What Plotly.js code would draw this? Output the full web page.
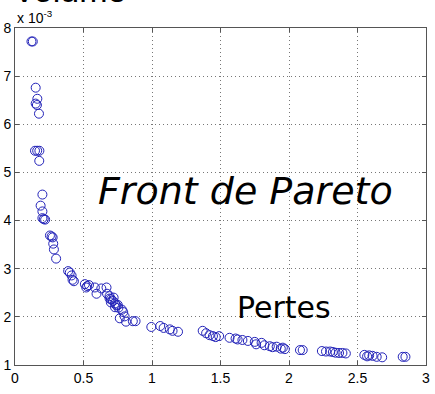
<!DOCTYPE html>
<html>
<head>
<meta charset="utf-8">
<script src="https://cdn.plot.ly/plotly-3.0.1.min.js"></script>
<style>html,body{margin:0;padding:0;background:#fff;}#chart{width:435px;height:394px;}</style>
</head>
<body>
<div id="chart"></div>
<script>
// Pertes (x) and Volume (y, in units of 1e-3)
const pertes = [
  0.12, 0.13,
  0.151, 0.163, 0.151, 0.16, 0.175,
  0.146, 0.162, 0.178, 0.177,
  0.20, 0.187, 0.20, 0.20, 0.21, 0.22,
  0.255, 0.267, 0.275, 0.279, 0.284, 0.30,
  0.388, 0.40, 0.413, 0.42, 0.43,
  0.51, 0.527, 0.52, 0.54, 0.583, 0.595, 0.63, 0.668, 0.672,
  0.69, 0.70, 0.715, 0.73, 0.74, 0.755, 0.78, 0.79, 0.80, 0.765, 0.81, 0.86, 0.88,
  0.69, 0.72, 0.70, 0.73, 0.75,
  0.995, 1.06, 1.085, 1.13, 1.15, 1.19,
  1.37, 1.395, 1.42, 1.445, 1.465, 1.49,
  1.566, 1.61, 1.625, 1.66, 1.70, 1.75, 1.76, 1.80, 1.82, 1.86, 1.88, 1.91, 1.94, 1.955, 1.97,
  2.08, 2.10,
  2.24, 2.27, 2.30, 2.32, 2.34, 2.365, 2.39, 2.415,
  2.55, 2.57, 2.585, 2.61, 2.64, 2.68,
  2.83, 2.85
];
const volume = [
  7.72, 7.72,
  6.76, 6.53, 6.43, 6.40, 6.22,
  5.45, 5.45, 5.45, 5.24,
  4.54, 4.31, 4.19, 4.05, 4.03, 4.02,
  3.69, 3.67, 3.65, 3.52, 3.40, 3.21,
  2.95, 2.92, 2.86, 2.77, 2.74,
  2.68, 2.64, 2.61, 2.66, 2.61, 2.48, 2.59, 2.61, 2.48,
  2.43, 2.37, 2.33, 2.28, 2.24, 2.19, 2.15, 2.10, 2.01, 1.97, 1.90, 1.91, 1.91,
  2.38, 2.40, 2.30, 2.20, 2.25,
  1.79, 1.81, 1.77, 1.74, 1.71, 1.69,
  1.71, 1.66, 1.62, 1.60, 1.58, 1.60,
  1.565, 1.55, 1.53, 1.52, 1.50, 1.48, 1.43, 1.46, 1.41, 1.39, 1.37, 1.38, 1.34, 1.36, 1.33,
  1.31, 1.31,
  1.29, 1.28, 1.28, 1.27, 1.255, 1.25, 1.25, 1.24,
  1.21, 1.18, 1.20, 1.19, 1.17, 1.16,
  1.17, 1.17
];
const xTicks = [0, 0.5, 1, 1.5, 2, 2.5, 3];
const xTickLabels = ['0', '0.5', '1', '1.5', '2', '2.5', '3'];
const yTicks = [1, 2, 3, 4, 5, 6, 7, 8];
const yTickLabels = ['1', '2', '3', '4', '5', '6', '7', '8'];

const trace = {
  x: pertes, y: volume, type: 'scatter', mode: 'markers',
  marker: {symbol: 'circle-open', size: 9, color: 'rgb(35,35,185)', line: {width: 1}},
  hoverinfo: 'none'
};
const axisCommon = {
  showline: true, mirror: 'ticks', linecolor: '#555', linewidth: 1,
  ticks: 'inside', ticklen: 4, tickcolor: '#555',
  showgrid: true, gridcolor: '#777', griddash: '1px,3px', gridwidth: 1,
  zeroline: false,
  tickfont: {family: 'Liberation Sans, Arial, sans-serif', size: 14, color: '#000'}
};
const layout = {
  width: 435, height: 394,
  margin: {l: 15, r: 9, t: 28, b: 29},
  paper_bgcolor: '#fff', plot_bgcolor: '#fff',
  showlegend: false,
  xaxis: Object.assign({}, axisCommon, {range: [0, 3], tickvals: xTicks, ticktext: xTickLabels, ticklabelstandoff: 0}),
  yaxis: Object.assign({}, axisCommon, {range: [1, 8], tickvals: yTicks, ticktext: yTickLabels, ticklabelstandoff: 0}),
  annotations: [
    {text: 'Volume', xref: 'paper', yref: 'paper', x: -0.01, y: 1.112, xanchor: 'left', yanchor: 'middle',
     showarrow: false, font: {family: 'Liberation Sans, Arial, sans-serif', size: 34, color: '#000'}},
    {text: 'x 10<sup>-3</sup>', xref: 'paper', yref: 'paper', x: 0.0, y: 1.0, xanchor: 'left', yanchor: 'bottom',
     showarrow: false, font: {family: 'Liberation Sans, Arial, sans-serif', size: 14, color: '#000'}},
    {text: '<i>Front de Pareto</i>', xref: 'paper', yref: 'paper', x: 0.56, y: 0.515, xanchor: 'center', yanchor: 'middle',
     showarrow: false, font: {family: 'DejaVu Sans, Verdana, sans-serif', size: 38, color: '#000'}},
    {text: 'Pertes', xref: 'paper', yref: 'paper', x: 0.655, y: 0.17, xanchor: 'center', yanchor: 'middle',
     showarrow: false, font: {family: 'DejaVu Sans, Verdana, sans-serif', size: 30, color: '#000'}}
  ]
};
Plotly.newPlot('chart', [trace], layout, {staticPlot: true, displayModeBar: false});
</script>
</body>
</html>
